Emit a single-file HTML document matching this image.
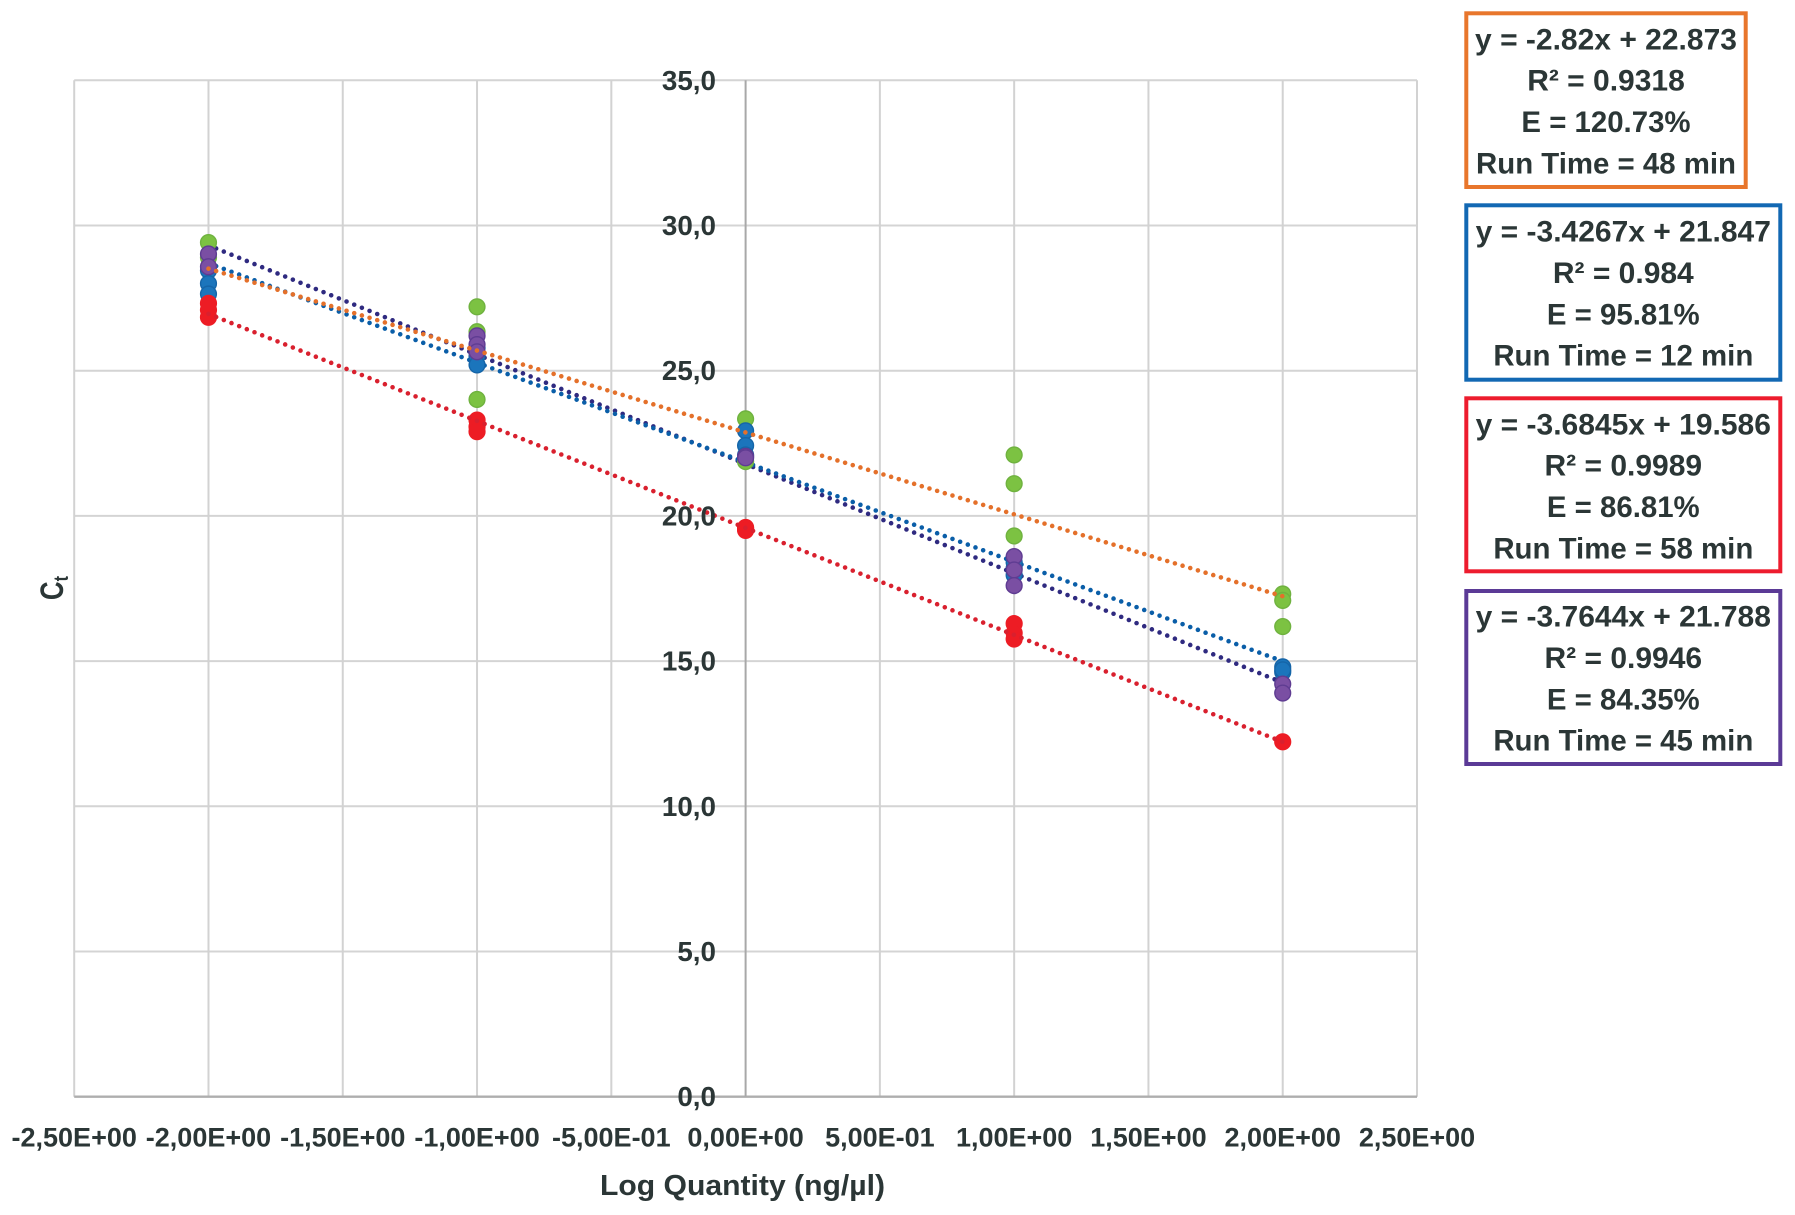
<!DOCTYPE html>
<html lang="en">
<head>
<meta charset="utf-8">
<title>Ct versus Log Quantity standard curves</title>
<style>
  html, body { margin: 0; padding: 0; background: #fff; }
  body { width: 1795px; height: 1215px; overflow: hidden; }
  svg { display: block; }
  text { font-family: "Liberation Sans", sans-serif; font-weight: bold; fill: #2b3636; }
  .box-text { font-size: 29.4px; text-anchor: middle; }
  .box-eq { font-size: 30px; text-anchor: middle; }
  .box-r2 { font-size: 30px; text-anchor: middle; }
</style>
</head>
<body>
<svg id="chart" xmlns="http://www.w3.org/2000/svg" width="1795" height="1215" viewBox="0 0 1795 1215">
  <g id="grid"></g>
  <g id="axes"></g>
  <g id="trend-lower"></g>
  <g id="points"></g>
  <g id="trend-upper"></g>
  <g id="y-ticks"></g>
  <g id="x-ticks"></g>

  <text x="742.5" y="1195" font-size="29" text-anchor="middle" textLength="285" lengthAdjust="spacingAndGlyphs">Log Quantity (ng/µl)</text>
  <text transform="translate(63 600) rotate(-90)" font-size="32" textLength="24" lengthAdjust="spacingAndGlyphs">C<tspan font-size="20" dy="5">t</tspan></text>

  <g>
    <rect x="1466.3" y="13.3" width="279.4" height="173.7" fill="#fff" stroke="#e8762c" stroke-width="4"/>
    <text class="box-eq" x="1606" y="49.3">y = -2.82x + 22.873</text>
    <text class="box-r2" x="1606" y="90.7">R² = 0.9318</text>
    <text class="box-text" x="1606" y="132">E = 120.73%</text>
    <text class="box-text" x="1606" y="173.3">Run Time = 48 min</text>
  </g>
  <g>
    <rect x="1466.3" y="205.3" width="314" height="174.4" fill="#fff" stroke="#1268b3" stroke-width="4"/>
    <text class="box-eq" x="1623.3" y="241.7">y = -3.4267x + 21.847</text>
    <text class="box-r2" x="1623.3" y="283">R² = 0.984</text>
    <text class="box-text" x="1623.3" y="324.3">E = 95.81%</text>
    <text class="box-text" x="1623.3" y="365.7">Run Time = 12 min</text>
  </g>
  <g>
    <rect x="1466.3" y="398.3" width="314" height="173" fill="#fff" stroke="#ed1c2e" stroke-width="4"/>
    <text class="box-eq" x="1623.3" y="434.3">y = -3.6845x + 19.586</text>
    <text class="box-r2" x="1623.3" y="475.7">R² = 0.9989</text>
    <text class="box-text" x="1623.3" y="517">E = 86.81%</text>
    <text class="box-text" x="1623.3" y="558.3">Run Time = 58 min</text>
  </g>
  <g>
    <rect x="1466.3" y="591" width="314" height="173" fill="#fff" stroke="#5b3a96" stroke-width="4"/>
    <text class="box-eq" x="1623.3" y="626.7">y = -3.7644x + 21.788</text>
    <text class="box-r2" x="1623.3" y="668">R² = 0.9946</text>
    <text class="box-text" x="1623.3" y="709.3">E = 84.35%</text>
    <text class="box-text" x="1623.3" y="750.7">Run Time = 45 min</text>
  </g>
</svg>

<script>
// Axis values and tick labels
const xTickValues = [-2.5, -2, -1.5, -1, -0.5, 0, 0.5, 1, 1.5, 2, 2.5];
const xTickLabels = ["-2,50E+00", "-2,00E+00", "-1,50E+00", "-1,00E+00", "-5,00E-01", "0,00E+00", "5,00E-01", "1,00E+00", "1,50E+00", "2,00E+00", "2,50E+00"];
const yTickValues = [0, 5, 10, 15, 20, 25, 30, 35];
const yTickLabels = ["0,0", "5,0", "10,0", "15,0", "20,0", "25,0", "30,0", "35,0"];

// Log quantity levels shared by every series
const logQuantityLevels = [-2, -1, 0, 1, 2];

// Ct readings per level, one array per level
const greenCtAtMinus2 = [29.41, 28.9];
const greenCtAtMinus1 = [27.2, 26.34, 24.01];
const greenCtAt0 = [23.34, 21.87];
const greenCtAt1 = [22.1, 21.11, 19.31];
const greenCtAt2 = [17.31, 17.09, 16.19];

const blueCtAtMinus2 = [28.45, 28.0, 27.64];
const blueCtAtMinus1 = [25.78, 25.5, 25.2];
const blueCtAt0 = [22.93, 22.42, 22.1];
const blueCtAt1 = [18.2, 17.96, 18.4];
const blueCtAt2 = [14.8, 14.62, 14.7];

const redCtAtMinus2 = [27.32, 27.09, 26.84];
const redCtAtMinus1 = [23.3, 23.07, 22.9];
const redCtAt0 = [19.6, 19.54, 19.5];
const redCtAt1 = [16.29, 15.97, 15.76];
const redCtAt2 = [12.22];

const purpleCtAtMinus2 = [29.02, 28.58];
const purpleCtAtMinus1 = [26.2, 25.9, 25.65];
const purpleCtAt0 = [22.05, 22.0];
const purpleCtAt1 = [18.6, 18.14, 17.6];
const purpleCtAt2 = [14.21, 13.9];

// Fitted trendlines printed in the boxes
const orangeSlope = -2.82;
const orangeIntercept = 22.873;
const blueSlope = -3.4267;
const blueIntercept = 21.847;
const redSlope = -3.6845;
const redIntercept = 19.586;
const purpleSlope = -3.7644;
const purpleIntercept = 21.788;

const xMin = -2.5, xMax = 2.5, yMin = 0, yMax = 35;
const plotLeft = 74.2, plotRight = 1417, plotTop = 80.3, plotBottom = 1096.7;
function xScale(v) { return plotLeft + (v - xMin) / (xMax - xMin) * (plotRight - plotLeft); }
function yScale(v) { return plotBottom - (v - yMin) / (yMax - yMin) * (plotBottom - plotTop); }

const NS = "http://www.w3.org/2000/svg";
function mk(tag, parentId, attrs) {
  const el = document.createElementNS(NS, tag);
  for (const k in attrs) el.setAttribute(k, attrs[k]);
  document.getElementById(parentId).appendChild(el);
  return el;
}

// Horizontal gridlines and y tick labels
yTickValues.forEach(function (v, i) {
  if (v !== 0) {
    const line = mk("line", "grid", { x1: plotLeft, x2: plotRight, y1: yScale(v), y2: yScale(v), stroke: "#d4d4d4", "stroke-width": 2 });
    
    
  }
  const label = mk("text", "y-ticks", { x: 716, y: yScale(v) + 9.5, "font-size": 27.8, "text-anchor": "end" });
  label.textContent = yTickLabels[i];
  
  
});

// Vertical gridlines and x tick labels
xTickValues.forEach(function (v, i) {
  if (v !== 0) {
    const line = mk("line", "grid", { x1: xScale(v), x2: xScale(v), y1: plotTop, y2: plotBottom, stroke: "#d2d2d2", "stroke-width": 2 });
    
    
  }
  const label = mk("text", "x-ticks", { x: xScale(v), y: 1146.7, "font-size": 27, "text-anchor": "middle" });
  label.textContent = xTickLabels[i];
  
  
});

// Axis lines
const xAxisLine = mk("line", "axes", { x1: plotLeft, x2: plotRight, y1: yScale(0), y2: yScale(0), stroke: "#aeaeae", "stroke-width": 2.4 });


const yAxisLine = mk("line", "axes", { x1: xScale(0), x2: xScale(0), y1: plotTop, y2: plotBottom, stroke: "#a8a8a8", "stroke-width": 2 });



// Trendlines: dots keep a constant horizontal pitch of about 7.67px
function drawTrend(parentId, slope, intercept, color, name) {
  const x0 = logQuantityLevels[0];
  const x1 = logQuantityLevels[logQuantityLevels.length - 1];
  const px0 = xScale(x0), py0 = yScale(slope * x0 + intercept);
  const px1 = xScale(x1), py1 = yScale(slope * x1 + intercept);
  const step = 7.67 * Math.hypot(px1 - px0, py1 - py0) / (px1 - px0);
  const line = mk("line", parentId, {
    x1: px0, y1: py0, x2: px1, y2: py1,
    stroke: color, "stroke-width": 4.6, "stroke-linecap": "round", "stroke-dasharray": "0 " + step
  });
  
  
}
drawTrend("trend-lower", purpleSlope, purpleIntercept, "#2f2a80", "trendline-purple");
drawTrend("trend-lower", blueSlope, blueIntercept, "#0a5ea8", "trendline-blue");

// Points
function drawPoints(levels, fill, stroke, name) {
  levels.forEach(function (values, i) {
    values.forEach(function (ct) {
      const dot = mk("circle", "points", { cx: xScale(logQuantityLevels[i]), cy: yScale(ct), r: 7.9, fill: fill, stroke: stroke, "stroke-width": 1.4 });
      
      
    });
  });
}
drawPoints([greenCtAtMinus2, greenCtAtMinus1, greenCtAt0, greenCtAt1, greenCtAt2], "#7cc242", "#6fb23f", "point-green");
drawPoints([blueCtAtMinus2, blueCtAtMinus1, blueCtAt0, blueCtAt1, blueCtAt2], "#1b75bc", "#1565a8", "point-blue");
drawPoints([redCtAtMinus2, redCtAtMinus1, redCtAt0, redCtAt1, redCtAt2], "#ed1c24", "#ed1c24", "point-red");
drawPoints([purpleCtAtMinus2, purpleCtAtMinus1, purpleCtAt0, purpleCtAt1, purpleCtAt2], "#7a4fa3", "#5f3c92", "point-purple");

drawTrend("trend-upper", redSlope, redIntercept, "#d9202e", "trendline-red");
drawTrend("trend-upper", orangeSlope, orangeIntercept, "#e4702a", "trendline-orange");
</script>
</body>
</html>
